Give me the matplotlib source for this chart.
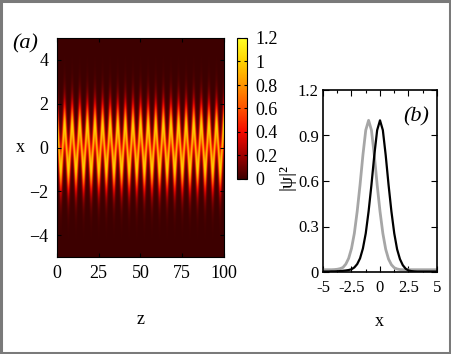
import numpy as np
import matplotlib
matplotlib.use("Agg")
import matplotlib.pyplot as plt
from matplotlib.colors import LinearSegmentedColormap
from matplotlib.patches import Rectangle

# ---------------------------------------------------------------------------
# Data
# ---------------------------------------------------------------------------
# panel (a): oscillating soliton |psi|^2 in the (z, x) plane
Z_RANGE = (0, 100)
X_RANGE = (-5, 5)
OSC_PERIOD = 4.55      # z-distance between successive upper turning points
OSC_AMPLITUDE = 1.0    # centre swings between -1 and +1
PULSE_WIDTH = 0.95     # sech^2 width
PULSE_PEAK = 1.0

a_xticks = [0, 25, 50, 75, 100]
a_yticks = [-4, -2, 0, 2, 4]
cbar_ticks = [0, 0.2, 0.4, 0.6, 0.8, 1.0, 1.2]
cbar_labels = ["0", "0.2", "0.4", "0.6", "0.8", "1", "1.2"]

# panel (b): profiles, read at steps of 0.25 in x
b_x = [-5.0, -4.75, -4.5, -4.25, -4.0, -3.75, -3.5, -3.25, -3.0, -2.75,
       -2.5, -2.25, -2.0, -1.75, -1.5, -1.25, -1.0, -0.75, -0.5, -0.25,
       0.0, 0.25, 0.5, 0.75, 1.0, 1.25, 1.5, 1.75, 2.0, 2.25,
       2.5, 2.75, 3.0, 3.25, 3.5, 3.75, 4.0, 4.25, 4.5, 4.75, 5.0]
b_black = [0.003, 0.003, 0.003, 0.004, 0.004, 0.005, 0.006, 0.008, 0.010, 0.013,
           0.018, 0.030, 0.052, 0.090, 0.155, 0.255, 0.400, 0.575, 0.770, 0.935,
           1.000, 0.935, 0.770, 0.575, 0.400, 0.255, 0.150, 0.085, 0.045, 0.022,
           0.010, 0.006, 0.004, 0.003, 0.003, 0.003, 0.003, 0.003, 0.003, 0.003, 0.003]
b_gray = [0.015, 0.015, 0.015, 0.015, 0.016, 0.018, 0.022, 0.030, 0.052, 0.090,
          0.155, 0.255, 0.400, 0.575, 0.770, 0.935, 1.000, 0.935, 0.770, 0.575,
          0.400, 0.255, 0.150, 0.085, 0.048, 0.028, 0.020, 0.016, 0.015, 0.015,
          0.015, 0.015, 0.015, 0.015, 0.015, 0.015, 0.015, 0.015, 0.015, 0.015, 0.015]
b_xticks = [-5, -2.5, 0, 2.5, 5]
b_xticklabels = ["-5", "-2.5", "0", "2.5", "5"]
b_yticks = [0, 0.3, 0.6, 0.9, 1.2]

# ---------------------------------------------------------------------------
# Style
# ---------------------------------------------------------------------------
plt.rcParams["font.family"] = ["Liberation Serif", "DejaVu Serif"]
plt.rcParams["font.size"] = 13
plt.rcParams["xtick.direction"] = "in"
plt.rcParams["ytick.direction"] = "in"

W, H = 452, 354
fig = plt.figure(figsize=(W / 100, H / 100), dpi=100)


def px_rect(left, top, right, bottom):
    return [left / W, 1 - bottom / H, (right - left) / W, (bottom - top) / H]


cmap = LinearSegmentedColormap.from_list("hotred", [
    (0.000, (0.24, 0.00, 0.00)),
    (0.167, (0.62, 0.00, 0.00)),
    (0.333, (0.96, 0.04, 0.00)),
    (0.500, (1.00, 0.32, 0.00)),
    (0.667, (1.00, 0.58, 0.00)),
    (0.833, (1.00, 0.82, 0.00)),
    (1.000, (1.00, 1.00, 0.15)),
])

# ---------------------------------------------------------------------------
# Panel (a)
# ---------------------------------------------------------------------------
z = np.linspace(Z_RANGE[0], Z_RANGE[1], 2000)
x = np.linspace(X_RANGE[0], X_RANGE[1], 400)
centre = OSC_AMPLITUDE * np.cos(2 * np.pi * z / OSC_PERIOD)
field = PULSE_PEAK / np.cosh((x[:, None] - centre[None, :]) / PULSE_WIDTH) ** 2

ax1 = fig.add_axes(px_rect(57, 38, 224, 257))
im = ax1.imshow(field, origin="lower", aspect="auto", cmap=cmap,
                vmin=0, vmax=1.2, interpolation="bilinear",
                extent=[Z_RANGE[0], Z_RANGE[1], X_RANGE[0], X_RANGE[1]])
ax1.set_xticks(a_xticks)
ax1.set_yticks(a_yticks)
ax1.set_yticklabels([str(v).replace("-", "\u2212") for v in a_yticks])
ax1.tick_params(top=True, right=True, length=3, width=0.8, color="black")
ax1.tick_params(axis="x", pad=6)
ax1.tick_params(axis="y", pad=6)
ax1.set_xlabel("z")
ax1.xaxis.set_label_coords(0.5, -0.245)
ax1.set_ylabel("x", rotation=0, va="center", ha="center")
ax1.yaxis.set_label_coords(-0.22, 0.5)
for s in ax1.spines.values():
    s.set_linewidth(0.8)

cax = fig.add_axes(px_rect(237, 38, 247, 179))
cb = fig.colorbar(im, cax=cax, ticks=cbar_ticks)
cb.ax.set_yticklabels(cbar_labels)
cb.ax.tick_params(direction="in", length=2.5, width=0.8, pad=6, left=True)
cb.outline.set_linewidth(0.8)

fig.text(25 / W, 1 - 44 / H, "(a)", style="italic", fontsize=16,
         ha="center", va="center")

# ---------------------------------------------------------------------------
# Panel (b)
# ---------------------------------------------------------------------------
ax2 = fig.add_axes(px_rect(323, 90, 437, 272))
ax2.plot(b_x, b_gray, color="#a6a6a6", linewidth=2.0)
ax2.plot(b_x, b_black, color="black", linewidth=1.6)
ax2.set_xlim(-5, 5)
ax2.set_ylim(0, 1.2)
ax2.set_xticks(b_xticks)
ax2.set_xticklabels(b_xticklabels)
ax2.set_xticks([-3.75, -1.25, 1.25, 3.75], minor=True)
ax2.set_yticks(b_yticks)
ax2.set_yticklabels(["0", "0.3", "0.6", "0.9", "1.2"])
ax2.tick_params(which="both", top=True, right=True, width=0.8)
ax2.tick_params(which="major", length=4, labelsize=12)
ax2.tick_params(which="minor", length=2.5)
ax2.tick_params(axis="x", pad=6)
ax2.tick_params(axis="y", pad=3)
ax2.set_xlabel("x")
ax2.xaxis.set_label_coords(0.49, -0.225)
ax2.set_ylabel("|\u03c8|\u00b2", fontsize=14)
ax2.yaxis.set_label_coords(-0.245, 0.52)
for s in ax2.spines.values():
    s.set_linewidth(1.2)
ax2.text(0.82, 0.85, "(b)", transform=ax2.transAxes, style="italic",
         fontsize=16, ha="center", va="center")

# grey frame around the whole picture
fig.patches.append(Rectangle((0.003, 0.004), 0.992, 0.992, transform=fig.transFigure,
                             fill=False, edgecolor="#7a7a7a", linewidth=2.2))

fig.savefig("out.png", dpi=100)
